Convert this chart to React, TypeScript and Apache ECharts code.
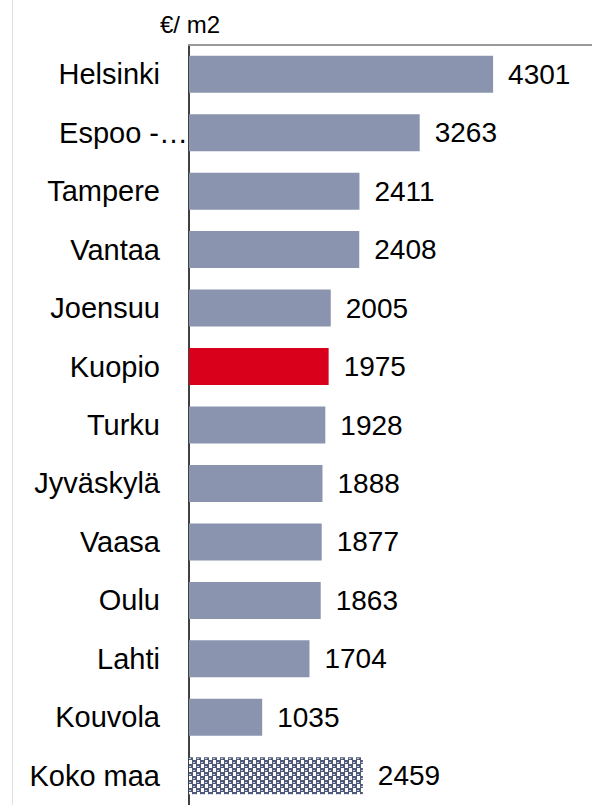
import React, { useEffect, useRef } from "react";
import * as echarts from "echarts";

const categories = [
  "Helsinki",
  "Espoo -…",
  "Tampere",
  "Vantaa",
  "Joensuu",
  "Kuopio",
  "Turku",
  "Jyväskylä",
  "Vaasa",
  "Oulu",
  "Lahti",
  "Kouvola",
  "Koko maa",
];
const values = [4301, 3263, 2411, 2408, 2005, 1975, 1928, 1888, 1877, 1863, 1704, 1035, 2459];
const highlighted = "Kuopio";
const totalCategory = "Koko maa";
const unitLabel = "€/ m2";
const truncatedCategory = "Espoo -…";

function makePattern(): HTMLCanvasElement {
  const c = document.createElement("canvas");
  c.width = 8;
  c.height = 8;
  const ctx = c.getContext("2d")!;
  ctx.fillStyle = "#ffffff";
  ctx.fillRect(0, 0, 8, 8);
  ctx.fillStyle = "#4f5a7a";
  // checker blocks (slightly wider than half)
  ctx.fillRect(0, 0, 5, 4);
  ctx.fillRect(4, 4, 4, 4);
  ctx.fillRect(0, 4, 1, 4);
  ctx.fillStyle = "#c8ccd8";
  ctx.fillRect(1, 2, 2, 1);
  ctx.fillRect(5, 6, 2, 1);
  return c;
}

export default function App() {
  const ref = useRef<HTMLDivElement>(null);
  useEffect(() => {
    if (!ref.current) return;
    const chart = echarts.init(ref.current, undefined, { renderer: "svg" });
    const pattern = makePattern();
    const data = values.map((v, i) => {
      const cat = categories[i];
      let color: any = "#8a94ae";
      if (cat === highlighted) color = "#d9001b";
      if (cat === totalCategory) color = { image: pattern, repeat: "repeat" };
      return { value: v, itemStyle: { color } };
    });
    const font = "Liberation Sans, Arial, sans-serif";
    chart.setOption({
      animation: false,
      textStyle: { fontFamily: font },
      grid: { left: 189, top: 45, width: 403, height: 764, containLabel: false },
      xAxis: {
        type: "value",
        position: "top",
        min: 0,
        max: 5700,
        axisLine: { show: true, lineStyle: { color: "#999999", width: 2 } },
        axisTick: { show: false },
        axisLabel: { show: false },
        splitLine: { show: false },
      },
      yAxis: {
        type: "category",
        inverse: true,
        data: categories,
        axisLine: { show: true, lineStyle: { color: "#000000", width: 1.5 } },
        axisTick: { show: false },
        axisLabel: {
          margin: 1,
          fontSize: 29,
          color: "#000000",
          fontFamily: font,
          formatter: (v: string) => (v === truncatedCategory ? `{e|${v}}` : `{n|${v}}`),
          rich: {
            n: { fontSize: 29, color: "#000", fontFamily: font, padding: [0, 28, 0, 0] },
            e: { fontSize: 29, color: "#000", fontFamily: font, padding: [0, 0, 0, 0] },
          },
        },
      },
      graphic: [
        {
          type: "line",
          shape: { x1: 12.5, y1: 0, x2: 12.5, y2: 805 },
          style: { stroke: "#dde1ea", lineWidth: 1 },
        },
        {
          type: "text",
          left: 160,
          top: 12,
          style: { text: unitLabel, fontSize: 24, fill: "#000", fontFamily: font },
        },
      ],
      series: [
        {
          type: "bar",
          data,
          barWidth: 37,
          label: {
            show: true,
            position: "right",
            distance: 15,
            fontSize: 28,
            color: "#000",
            fontFamily: font,
          },
        },
      ],
    });
    return () => chart.dispose();
  }, []);
  return (
    <div
      ref={ref}
      style={{ position: "absolute", left: 0, top: 0, width: 592, height: 805, background: "#fff" }}
    />
  );
}
